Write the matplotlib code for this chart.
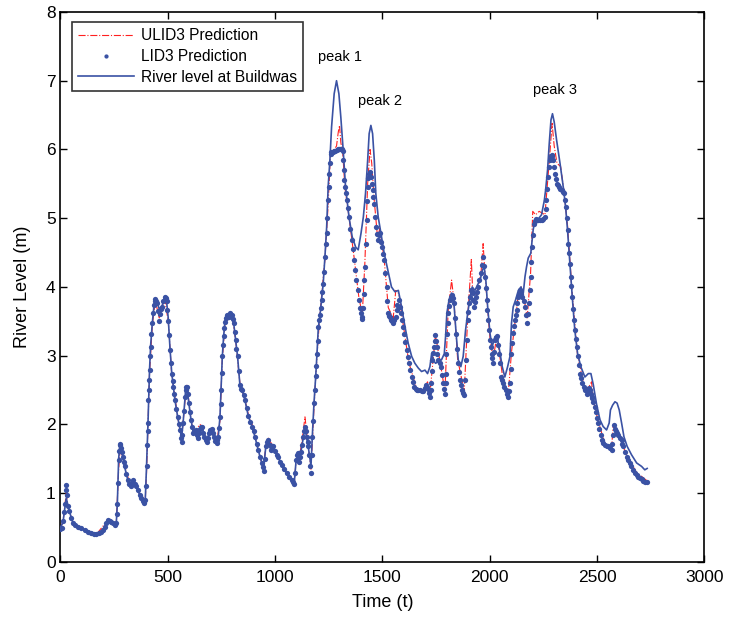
import matplotlib
matplotlib.use("Agg")
import matplotlib.pyplot as plt

plt.rcParams["font.family"] = ["Liberation Sans", "DejaVu Sans"]

# observed river level at Buildwas
t_obs = [0, 12, 19, 27, 35, 43, 58, 82, 113, 144, 167, 190, 206, 221, 237, 252, 260, 265, 271, 276,
         283, 291, 299, 314, 327, 338, 353, 369, 384, 395, 401, 408, 415, 420, 428, 436, 442, 451, 460, 473,
         485, 494, 502, 510, 518, 526, 533, 546, 557, 564, 572, 583, 589, 598, 608, 619, 630, 639, 650, 661,
         670, 681, 692, 704, 716, 727, 735, 743, 748, 754, 760, 766, 774, 785, 797, 807, 816, 825, 836, 847,
         859, 875, 893, 906, 921, 937, 946, 956, 968, 980, 991, 1007, 1015, 1030, 1053, 1077, 1089, 1097, 1105, 1111,
         1120, 1131, 1139, 1147, 1154, 1167, 1173, 1181, 1189, 1195, 1201, 1209, 1216, 1224, 1232, 1240, 1247, 1255, 1263, 1275,
         1286, 1297, 1306, 1317, 1328, 1344, 1359, 1375, 1387, 1400, 1411, 1421, 1431, 1438, 1446, 1454, 1462, 1469, 1480, 1493,
         1508, 1527, 1542, 1558, 1574, 1589, 1605, 1620, 1636, 1651, 1667, 1682, 1698, 1710, 1721, 1729, 1737, 1747, 1760, 1775,
         1788, 1794, 1800, 1810, 1822, 1833, 1842, 1853, 1865, 1876, 1887, 1897, 1909, 1918, 1931, 1943, 1955, 1966, 1974, 1982,
         1990, 2001, 2011, 2024, 2036, 2047, 2058, 2070, 2083, 2094, 2101, 2109, 2120, 2133, 2145, 2156, 2164, 2171, 2179, 2191,
         2202, 2210, 2226, 2241, 2254, 2260, 2269, 2277, 2285, 2292, 2300, 2311, 2327, 2342, 2353, 2362, 2373, 2384, 2396, 2409,
         2424, 2443, 2459, 2471, 2482, 2497, 2513, 2528, 2544, 2556, 2562, 2572, 2583, 2593, 2603, 2614, 2625, 2640, 2660, 2684,
         2707, 2722, 2733]
level_obs = [0.50, 0.58, 0.75, 0.93, 0.82, 0.72, 0.57, 0.51, 0.47, 0.43, 0.40, 0.44, 0.51, 0.60, 0.58, 0.54, 0.56, 0.85, 1.50, 1.68,
             1.66, 1.52, 1.38, 1.19, 1.10, 1.18, 1.10, 0.98, 0.88, 0.90, 1.40, 2.05, 2.80, 3.15, 3.48, 3.74, 3.83, 3.77, 3.68, 3.72,
             3.86, 3.80, 3.55, 3.12, 2.76, 2.55, 2.36, 2.11, 1.93, 1.80, 2.05, 2.50, 2.55, 2.31, 2.07, 1.88, 1.92, 1.82, 1.94, 1.96,
             1.83, 1.77, 1.87, 1.93, 1.83, 1.76, 1.82, 2.11, 2.50, 2.99, 3.28, 3.49, 3.59, 3.57, 3.59, 3.47, 3.23, 2.99, 2.57, 2.50,
             2.36, 2.12, 1.97, 1.82, 1.63, 1.45, 1.36, 1.66, 1.76, 1.63, 1.66, 1.56, 1.52, 1.41, 1.29, 1.19, 1.15, 1.45, 1.56, 1.48,
             1.60, 1.80, 1.95, 1.80, 1.68, 1.40, 1.82, 2.31, 2.70, 3.03, 3.40, 3.59, 3.81, 4.05, 4.44, 4.87, 5.46, 5.84, 6.33, 6.81,
             7.00, 6.81, 6.47, 5.99, 5.46, 5.02, 4.73, 4.58, 4.54, 4.78, 5.02, 5.36, 5.84, 6.23, 6.35, 6.23, 5.84, 5.36, 5.02, 4.78,
             4.49, 4.22, 4.00, 3.93, 3.95, 3.71, 3.42, 3.18, 2.99, 2.89, 2.82, 2.77, 2.79, 2.74, 2.84, 3.03, 2.94, 2.89, 2.91, 2.94,
             3.03, 3.28, 3.62, 3.81, 3.91, 3.76, 3.37, 2.94, 2.84, 2.99, 3.37, 3.62, 3.86, 4.00, 3.95, 4.03, 4.10, 4.25, 4.29, 4.08,
             3.71, 3.32, 3.13, 3.28, 3.25, 3.05, 2.84, 2.69, 2.84, 2.99, 3.47, 3.71, 3.81, 3.95, 4.00, 3.91, 4.15, 4.29, 4.42, 4.49,
             4.83, 4.97, 4.99, 5.05, 5.26, 5.41, 5.70, 6.09, 6.43, 6.52, 6.40, 6.14, 5.80, 5.46, 5.17, 4.83, 4.34, 3.86, 3.37, 3.03,
             2.84, 2.69, 2.74, 2.74, 2.58, 2.30, 2.07, 1.97, 1.92, 2.02, 2.21, 2.28, 2.33, 2.31, 2.21, 2.02, 1.82, 1.68, 1.56, 1.44,
             1.39, 1.34, 1.36]

# LID3 prediction
t_lid3 = [0, 6, 12, 16, 20, 24, 27, 30, 35, 40, 48, 58, 70, 82, 95, 113, 128, 144, 155, 167,
          178, 190, 198, 206, 214, 221, 229, 237, 245, 252, 260, 263, 265, 268, 271, 274, 276, 279, 283, 287,
          291, 295, 299, 306, 314, 320, 327, 333, 338, 345, 353, 361, 369, 376, 384, 390, 395, 398, 401, 404,
          406, 408, 410, 411, 413, 415, 418, 420, 424, 428, 432, 436, 439, 442, 446, 451, 455, 460, 465, 469,
          473, 479, 485, 490, 494, 498, 502, 506, 510, 514, 518, 522, 526, 530, 533, 539, 546, 551, 557, 561,
          564, 568, 572, 576, 580, 583, 586, 589, 593, 598, 603, 608, 613, 619, 624, 630, 635, 639, 645, 650,
          656, 661, 666, 670, 676, 681, 686, 692, 698, 704, 710, 716, 722, 727, 731, 735, 739, 743, 746, 748,
          751, 754, 757, 760, 763, 766, 770, 774, 780, 785, 791, 797, 802, 807, 812, 816, 820, 825, 830, 836,
          842, 847, 853, 859, 867, 875, 884, 893, 900, 906, 914, 921, 929, 937, 942, 946, 951, 956, 962, 968,
          974, 980, 986, 991, 999, 1007, 1015, 1022, 1030, 1041, 1053, 1065, 1077, 1083, 1089, 1093, 1097, 1101, 1105, 1111,
          1116, 1120, 1125, 1131, 1135, 1139, 1143, 1147, 1151, 1154, 1158, 1162, 1167, 1170, 1173, 1177, 1181, 1185, 1189, 1192,
          1195, 1198, 1201, 1205, 1209, 1213, 1216, 1220, 1224, 1228, 1232, 1236, 1240, 1243, 1247, 1250, 1253, 1256, 1258, 1262,
          1268, 1274, 1280, 1286, 1292, 1298, 1304, 1310, 1315, 1318, 1320, 1323, 1325, 1329, 1333, 1338, 1344, 1350, 1356, 1362,
          1369, 1374, 1379, 1385, 1390, 1395, 1400, 1403, 1406, 1409, 1412, 1415, 1418, 1422, 1426, 1429, 1431, 1434, 1437, 1441,
          1446, 1450, 1454, 1458, 1462, 1466, 1469, 1473, 1477, 1483, 1488, 1492, 1496, 1502, 1508, 1514, 1519, 1523, 1527, 1531,
          1535, 1539, 1542, 1546, 1550, 1556, 1561, 1566, 1570, 1577, 1584, 1588, 1592, 1596, 1601, 1606, 1612, 1617, 1623, 1630,
          1636, 1642, 1648, 1654, 1659, 1666, 1674, 1682, 1690, 1696, 1701, 1706, 1710, 1716, 1721, 1724, 1726, 1730, 1733, 1737,
          1741, 1744, 1747, 1750, 1752, 1756, 1760, 1766, 1772, 1777, 1783, 1787, 1791, 1794, 1796, 1798, 1800, 1803, 1806, 1811,
          1816, 1821, 1825, 1829, 1833, 1837, 1841, 1845, 1850, 1855, 1861, 1866, 1872, 1877, 1881, 1885, 1889, 1893, 1897, 1900,
          1904, 1908, 1912, 1916, 1920, 1924, 1928, 1931, 1935, 1940, 1946, 1952, 1959, 1964, 1969, 1973, 1977, 1981, 1985, 1989,
          1993, 1997, 2001, 2005, 2008, 2012, 2016, 2020, 2024, 2028, 2033, 2037, 2042, 2046, 2052, 2057, 2063, 2068, 2074, 2080,
          2086, 2090, 2094, 2097, 2101, 2105, 2109, 2113, 2117, 2121, 2125, 2129, 2133, 2138, 2142, 2147, 2151, 2157, 2164, 2169,
          2174, 2178, 2182, 2186, 2190, 2194, 2198, 2202, 2205, 2209, 2213, 2220, 2226, 2233, 2241, 2249, 2257, 2261, 2264, 2268,
          2272, 2276, 2280, 2284, 2288, 2292, 2296, 2300, 2303, 2308, 2313, 2318, 2322, 2328, 2334, 2340, 2345, 2349, 2353, 2358,
          2362, 2366, 2369, 2373, 2377, 2380, 2384, 2388, 2392, 2396, 2400, 2404, 2409, 2414, 2420, 2425, 2431, 2437, 2443, 2451,
          2456, 2462, 2466, 2471, 2474, 2478, 2482, 2488, 2494, 2500, 2505, 2510, 2516, 2521, 2528, 2536, 2544, 2552, 2560, 2567,
          2571, 2575, 2578, 2582, 2587, 2593, 2598, 2606, 2614, 2618, 2621, 2629, 2637, 2645, 2653, 2660, 2668, 2676, 2684, 2692,
          2699, 2707, 2715, 2724, 2733]
level_lid3 = [0.48, 0.50, 0.60, 0.72, 0.85, 1.05, 1.12, 0.98, 0.82, 0.74, 0.64, 0.57, 0.54, 0.51, 0.49, 0.47, 0.44, 0.42, 0.41, 0.40,
              0.42, 0.44, 0.47, 0.51, 0.56, 0.61, 0.60, 0.58, 0.56, 0.54, 0.56, 0.70, 0.85, 1.15, 1.48, 1.62, 1.70, 1.72, 1.66, 1.60,
              1.53, 1.46, 1.39, 1.28, 1.19, 1.14, 1.10, 1.15, 1.19, 1.14, 1.10, 1.04, 0.98, 0.93, 0.88, 0.86, 0.90, 1.10, 1.39, 1.70,
              1.90, 2.02, 2.35, 2.50, 2.65, 2.79, 3.00, 3.13, 3.32, 3.47, 3.62, 3.74, 3.80, 3.83, 3.80, 3.76, 3.65, 3.50, 3.60, 3.68,
              3.71, 3.80, 3.86, 3.84, 3.80, 3.66, 3.50, 3.30, 3.08, 2.90, 2.74, 2.63, 2.55, 2.45, 2.36, 2.22, 2.11, 2.00, 1.92, 1.80,
              1.75, 1.85, 2.02, 2.20, 2.40, 2.50, 2.55, 2.55, 2.45, 2.31, 2.18, 2.07, 1.96, 1.87, 1.90, 1.92, 1.85, 1.80, 1.88, 1.94,
              1.97, 1.97, 1.88, 1.82, 1.77, 1.75, 1.80, 1.87, 1.92, 1.94, 1.88, 1.82, 1.76, 1.73, 1.78, 1.82, 1.95, 2.11, 2.30, 2.50,
              2.75, 2.99, 3.15, 3.28, 3.40, 3.49, 3.55, 3.59, 3.56, 3.57, 3.62, 3.59, 3.53, 3.47, 3.35, 3.23, 3.10, 2.99, 2.78, 2.57,
              2.52, 2.50, 2.43, 2.36, 2.24, 2.12, 2.04, 1.97, 1.90, 1.82, 1.72, 1.63, 1.53, 1.44, 1.38, 1.32, 1.50, 1.68, 1.74, 1.77,
              1.70, 1.63, 1.66, 1.68, 1.62, 1.56, 1.52, 1.46, 1.41, 1.35, 1.29, 1.24, 1.19, 1.16, 1.14, 1.30, 1.48, 1.55, 1.58, 1.46,
              1.52, 1.60, 1.70, 1.82, 1.90, 1.97, 1.90, 1.82, 1.74, 1.68, 1.55, 1.40, 1.29, 1.55, 1.82, 2.05, 2.31, 2.50, 2.70, 2.85,
              3.03, 3.22, 3.42, 3.52, 3.59, 3.70, 3.81, 3.92, 4.05, 4.22, 4.44, 4.62, 4.78, 5.00, 5.26, 5.45, 5.65, 5.80, 5.94, 5.97,
              5.97, 5.98, 5.98, 5.99, 6.00, 6.00, 6.01, 6.00, 5.98, 5.85, 5.70, 5.55, 5.46, 5.36, 5.26, 5.15, 5.02, 4.85, 4.68, 4.55,
              4.39, 4.25, 4.10, 3.95, 3.81, 3.70, 3.62, 3.57, 3.54, 3.70, 3.90, 4.10, 4.29, 4.63, 4.97, 5.25, 5.46, 5.58, 5.65, 5.67,
              5.60, 5.50, 5.41, 5.31, 5.21, 5.02, 4.87, 4.77, 4.68, 4.75, 4.78, 4.65, 4.58, 4.48, 4.39, 4.20, 4.00, 3.80, 3.62, 3.58,
              3.57, 3.54, 3.52, 3.50, 3.47, 3.52, 3.57, 3.66, 3.74, 3.81, 3.71, 3.62, 3.52, 3.42, 3.32, 3.20, 3.08, 2.98, 2.89, 2.79,
              2.69, 2.62, 2.55, 2.52, 2.50, 2.50, 2.50, 2.49, 2.48, 2.53, 2.57, 2.55, 2.52, 2.46, 2.40, 2.50, 2.60, 2.78, 2.94, 3.04,
              3.13, 3.22, 3.30, 3.22, 3.13, 3.03, 2.94, 2.89, 2.84, 2.72, 2.60, 2.52, 2.45, 2.60, 2.74, 3.02, 3.32, 3.48, 3.62, 3.72,
              3.81, 3.86, 3.88, 3.84, 3.76, 3.55, 3.32, 3.10, 2.89, 2.77, 2.65, 2.57, 2.50, 2.46, 2.43, 2.65, 2.94, 3.23, 3.52, 3.64,
              3.76, 3.86, 3.95, 3.93, 3.91, 3.81, 3.71, 3.78, 3.86, 3.93, 4.00, 4.10, 4.20, 4.32, 4.44, 4.30, 4.15, 3.98, 3.81, 3.66,
              3.52, 3.38, 3.23, 3.12, 3.03, 2.96, 2.89, 3.05, 3.23, 3.26, 3.28, 3.15, 3.03, 2.90, 2.69, 2.64, 2.60, 2.55, 2.50, 2.45,
              2.40, 2.48, 2.60, 2.80, 3.03, 3.18, 3.33, 3.43, 3.52, 3.59, 3.66, 3.76, 3.86, 3.90, 3.95, 3.90, 3.86, 3.79, 3.71, 3.59,
              3.47, 3.60, 3.76, 3.95, 4.15, 4.37, 4.58, 4.76, 4.92, 4.96, 4.99, 4.98, 4.97, 4.97, 4.97, 4.99, 5.02, 5.14, 5.26, 5.43,
              5.60, 5.74, 5.85, 5.90, 5.92, 5.90, 5.85, 5.75, 5.65, 5.57, 5.50, 5.48, 5.46, 5.43, 5.41, 5.38, 5.36, 5.27, 5.17, 5.00,
              4.83, 4.62, 4.50, 4.34, 4.15, 4.02, 3.86, 3.68, 3.52, 3.37, 3.25, 3.13, 2.99, 2.86, 2.74, 2.67, 2.60, 2.55, 2.50, 2.45,
              2.50, 2.53, 2.50, 2.45, 2.40, 2.38, 2.33, 2.26, 2.18, 2.10, 2.02, 1.93, 1.84, 1.77, 1.73, 1.70, 1.69, 1.68, 1.66, 1.63,
              1.72, 1.84, 1.99, 1.94, 1.90, 1.87, 1.85, 1.80, 1.77, 1.72, 1.68, 1.60, 1.53, 1.48, 1.44, 1.39, 1.34, 1.30, 1.27, 1.24,
              1.22, 1.20, 1.18, 1.17, 1.17]

# ULID3 prediction
t_ulid3 = [0, 12, 20, 27, 35, 58, 113, 167, 221, 260, 271, 279, 299, 327, 338, 369, 395, 401, 408, 415,
           428, 442, 460, 485, 502, 518, 546, 564, 583, 589, 608, 619, 650, 661, 681, 704, 727, 743, 754, 766,
           797, 816, 836, 859, 875, 893, 921, 946, 956, 968, 991, 1030, 1089, 1097, 1111, 1125, 1139, 1154, 1167, 1181,
           1195, 1209, 1232, 1247, 1258, 1275, 1286, 1294, 1300, 1306, 1315, 1325, 1344, 1369, 1390, 1406, 1418, 1431, 1442, 1450,
           1462, 1477, 1488, 1508, 1527, 1542, 1550, 1562, 1577, 1592, 1623, 1659, 1690, 1710, 1721, 1747, 1772, 1791, 1806, 1822,
           1833, 1850, 1881, 1897, 1914, 1920, 1935, 1959, 1969, 1977, 2001, 2016, 2033, 2063, 2086, 2101, 2133, 2147, 2164, 2174,
           2190, 2200, 2213, 2230, 2257, 2280, 2290, 2300, 2313, 2330, 2345, 2362, 2384, 2409, 2443, 2462, 2474, 2482, 2505, 2536,
           2567, 2575, 2598, 2637, 2684, 2733]
level_ulid3 = [0.48, 0.60, 0.82, 1.00, 0.80, 0.57, 0.47, 0.40, 0.61, 0.56, 1.35, 1.68, 1.39, 1.10, 1.19, 0.98, 0.90, 1.30, 2.00, 2.75,
               3.45, 3.80, 3.55, 3.84, 3.50, 2.74, 2.11, 1.78, 2.45, 2.58, 2.07, 1.87, 2.00, 1.97, 1.75, 1.96, 1.73, 2.05, 2.95, 3.45,
               3.62, 3.23, 2.60, 2.36, 2.15, 2.00, 1.63, 1.35, 1.68, 1.80, 1.68, 1.41, 1.14, 1.45, 1.50, 1.75, 2.11, 1.68, 1.35, 2.25,
               3.00, 3.62, 4.40, 5.20, 5.95, 6.00, 6.05, 6.25, 6.35, 6.10, 5.95, 5.45, 5.02, 4.40, 3.85, 3.60, 4.35, 5.50, 6.00, 5.80,
               5.25, 4.72, 4.85, 4.40, 3.70, 3.60, 3.55, 3.95, 3.90, 3.55, 2.90, 2.52, 2.50, 2.62, 2.45, 3.30, 2.84, 2.48, 3.65, 4.10,
               3.80, 2.95, 2.48, 3.55, 4.40, 3.95, 3.85, 4.20, 4.63, 4.20, 3.25, 2.95, 3.30, 2.62, 2.45, 3.05, 3.90, 4.00, 3.75, 3.55,
               4.20, 5.10, 5.05, 5.10, 5.05, 5.95, 6.38, 6.05, 5.80, 5.75, 5.40, 4.90, 3.90, 3.00, 2.52, 2.55, 2.62, 2.35, 2.05, 1.72,
               1.65, 1.97, 1.88, 1.55, 1.30, 1.18]

peak_labels = ["peak 1", "peak 2", "peak 3"]
peak_t = [1302, 1488, 2303]
peak_y = [7.34, 6.70, 6.86]

fig = plt.figure(figsize=(7.41, 6.23), dpi=100)
ax = fig.add_axes([0.0816, 0.098, 0.8691, 0.8828])

ax.plot(t_ulid3, level_ulid3, color="#ff2020", linestyle="-.", linewidth=0.8,
        label="ULID3 Prediction", zorder=2)
ax.plot(t_lid3, level_lid3, linestyle="none", marker="o", markersize=3.8,
        markeredgewidth=0, color="#3a52a4", label="LID3 Prediction", zorder=3)
ax.plot(t_obs, level_obs, color="#3a52a4", linewidth=1.2,
        label="River level at Buildwas", zorder=4)

for lab, tx, ty in zip(peak_labels, peak_t, peak_y):
    ax.text(tx, ty, lab, fontsize=10.5, ha="center", va="center")

ax.set_xlim(0, 3000)
ax.set_ylim(0, 8)
ax.set_xticks(range(0, 3001, 500))
ax.set_yticks(range(0, 9))
ax.tick_params(direction="in", length=5, width=1, top=True, right=True, labelsize=12.5)
ax.tick_params(axis="x", pad=6)
for sp in ax.spines.values():
    sp.set_linewidth(1.2)

ax.set_xlabel("Time (t)", fontsize=13, labelpad=6)
ax.set_ylabel("River Level (m)", fontsize=13, labelpad=11)

leg = ax.legend(loc="upper left", bbox_to_anchor=(0.018, 0.982), borderaxespad=0,
                fontsize=11.2, frameon=True, fancybox=False, edgecolor="black",
                handlelength=3.6, labelspacing=0.38, borderpad=0.4, handletextpad=0.4,
                markerscale=0.8)
leg.get_frame().set_linewidth(1.2)

fig.savefig("out.png", dpi=100)
plt.close(fig)
